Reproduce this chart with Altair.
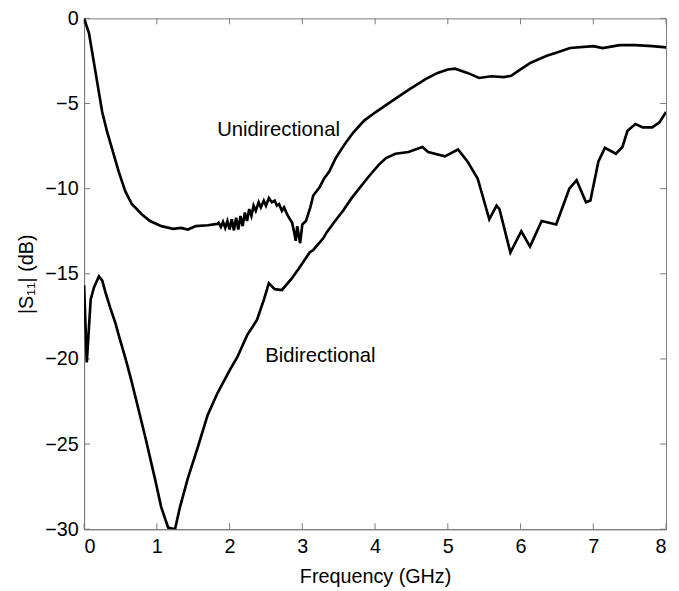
import altair as alt
import pandas as pd

# Unidirectional |S11| (dB) vs frequency (GHz)
uni_f = [0.0, 0.068, 0.113, 0.159, 0.204, 0.249, 0.317, 0.385, 0.476, 0.567, 0.656, 0.792, 0.906,
         1.064, 1.223, 1.332, 1.427, 1.535, 1.70, 1.83,
         1.85, 1.88, 1.91, 1.94, 1.97, 2.00, 2.03, 2.06, 2.09, 2.12, 2.15, 2.18, 2.21, 2.24, 2.27,
         2.30, 2.33, 2.36, 2.40, 2.43, 2.47, 2.50, 2.54, 2.58, 2.62, 2.65, 2.68, 2.72, 2.75, 2.79,
         2.83, 2.86, 2.89, 2.91, 2.93, 2.97, 3.00, 3.05, 3.11, 3.15, 3.24, 3.30, 3.37, 3.46, 3.58,
         3.70, 3.85, 4.01, 4.25, 4.46, 4.70, 4.86, 5.00, 5.10, 5.27, 5.43, 5.60, 5.77, 5.87, 6.00,
         6.14, 6.36, 6.50, 6.68, 7.00, 7.13, 7.36, 7.58, 7.81, 8.0]
uni_db = [0.0, -0.87, -2.03, -3.2, -4.35, -5.5, -6.67, -7.66, -9.0, -10.16, -10.9, -11.5, -11.9,
          -12.2, -12.36, -12.3, -12.4, -12.2, -12.15, -12.07,
          -12.0, -12.25, -11.95, -12.3, -11.9, -12.4, -11.8, -12.45, -11.7, -12.4, -11.6, -12.2, -11.4, -11.9, -11.2,
          -11.6, -11.0, -11.3, -10.8, -11.1, -10.7, -11.0, -10.55, -10.8, -10.7, -11.0, -10.9, -11.3, -11.1, -11.5,
          -11.8, -12.0, -12.6, -13.06, -12.2, -13.2, -12.1, -11.9, -11.1, -10.4, -9.9, -9.4, -9.0, -8.2, -7.4,
          -6.7, -6.0, -5.5, -4.8, -4.2, -3.55, -3.2, -3.0, -2.95, -3.2, -3.5, -3.4, -3.45, -3.37, -3.0,
          -2.6, -2.2, -2.0, -1.74, -1.63, -1.74, -1.57, -1.57, -1.63, -1.7]

# Bidirectional |S11| (dB) vs frequency (GHz)
bi_f = [0.0, 0.037, 0.091, 0.136, 0.204, 0.25, 0.295, 0.36, 0.431, 0.476, 0.53, 0.584, 0.652, 0.75,
        0.842, 0.978, 1.06, 1.155, 1.25, 1.318, 1.427, 1.562, 1.698, 1.834, 2.01, 2.106, 2.242, 2.378,
        2.473, 2.54, 2.62, 2.72, 2.85, 2.95, 3.10, 3.15, 3.29, 3.33, 3.45, 3.56, 3.67, 3.78, 3.91, 4.05,
        4.15, 4.28, 4.46, 4.65, 4.73, 4.96, 5.14, 5.27, 5.41, 5.57, 5.67, 5.71, 5.86, 6.01, 6.13, 6.29,
        6.49, 6.67, 6.77, 6.90, 6.96, 7.07, 7.16, 7.31, 7.40, 7.47, 7.58, 7.68, 7.81, 7.91, 8.0]
bi_db = [-15.67, -20.2, -16.5, -15.8, -15.15, -15.4, -16.1, -17.0, -17.9, -18.6, -19.4, -20.2, -21.3, -23.0,
         -24.6, -27.1, -28.7, -29.9, -30.0, -28.7, -27.0, -25.2, -23.3, -22.0, -20.6, -19.9, -18.6, -17.7,
         -16.5, -15.55, -15.9, -15.95, -15.3, -14.7, -13.75, -13.6, -12.9, -12.6, -11.9, -11.3, -10.6, -10.0, -9.3, -8.6,
         -8.2, -7.95, -7.85, -7.55, -7.85, -8.1, -7.7, -8.4, -9.4, -11.8, -11.0, -11.2, -13.75, -12.5, -13.4, -11.9,
         -12.1, -10.0, -9.5, -10.8, -10.7, -8.4, -7.6, -7.95, -7.55, -6.6, -6.2, -6.4, -6.4, -6.1, -5.5]

x_ticks = [0, 1, 2, 3, 4, 5, 6, 7, 8]
y_ticks = [-30, -25, -20, -15, -10, -5, 0]

label_text = ["Unidirectional", "Bidirectional"]
label_f = [1.83, 2.49]
label_db = [-6.53, -19.85]

W, H = 589, 517
FONT = "Liberation Sans"
GRAY = "#7a7a7a"

df = pd.concat([
    pd.DataFrame({"f": uni_f, "db": uni_db, "series": "Unidirectional"}),
    pd.DataFrame({"f": bi_f, "db": bi_db, "series": "Bidirectional"}),
])
labels = pd.DataFrame({"f": label_f, "db": label_db, "text": label_text})
xt = pd.DataFrame({"f": x_ticks})
yt = pd.DataFrame({"db": y_ticks})

xscale = alt.Scale(domain=[0, 8], nice=False, zero=False)
yscale = alt.Scale(domain=[-30, 0], nice=False, zero=False)

lines = alt.Chart(df).mark_line(color="black", strokeWidth=2.7, clip=True).encode(
    x=alt.X("f:Q", scale=xscale, title="Frequency (GHz)",
            axis=alt.Axis(values=x_ticks, format="d")),
    y=alt.Y("db:Q", scale=yscale, title="|S₁₁| (dB)",
            axis=alt.Axis(values=y_ticks, format="d")),
    detail="series:N",
)

text = alt.Chart(labels).mark_text(align="left", baseline="middle", fontSize=20.5,
                                    font=FONT, color="black").encode(
    x=alt.X("f:Q", scale=xscale), y=alt.Y("db:Q", scale=yscale), text="text:N")

tb = alt.Chart(xt).mark_rule(color=GRAY, strokeWidth=1).encode(
    x=alt.X("f:Q", scale=xscale), y=alt.value(H), y2=alt.value(H - 6))
tt = alt.Chart(xt).mark_rule(color=GRAY, strokeWidth=1).encode(
    x=alt.X("f:Q", scale=xscale), y=alt.value(0), y2=alt.value(6))
tl = alt.Chart(yt).mark_rule(color=GRAY, strokeWidth=1).encode(
    y=alt.Y("db:Q", scale=yscale), x=alt.value(0), x2=alt.value(6))
tr = alt.Chart(yt).mark_rule(color=GRAY, strokeWidth=1).encode(
    y=alt.Y("db:Q", scale=yscale), x=alt.value(W), x2=alt.value(W - 6))

chart = alt.layer(tb, tt, tl, tr, lines, text).properties(
    width=W, height=H,
    autosize=alt.AutoSizeParams(type="none"),
    padding={"left": 77, "top": 7, "right": 5, "bottom": 59},
    background="white",
).configure_view(
    stroke=GRAY, strokeWidth=1
).configure_axis(
    grid=False, domainColor=GRAY, domainWidth=1, tickSize=0,
    labelFont=FONT, labelFontSize=20, labelColor="black",
    titleFont=FONT, titleFontSize=20, titleColor="black", titleFontWeight="normal",
).configure_axisX(
    labelPadding=8, titlePadding=10,
).configure_axisY(
    labelPadding=6, titlePadding=8,
)

chart.save("out.html", embed_options={"renderer": "svg", "actions": False})
